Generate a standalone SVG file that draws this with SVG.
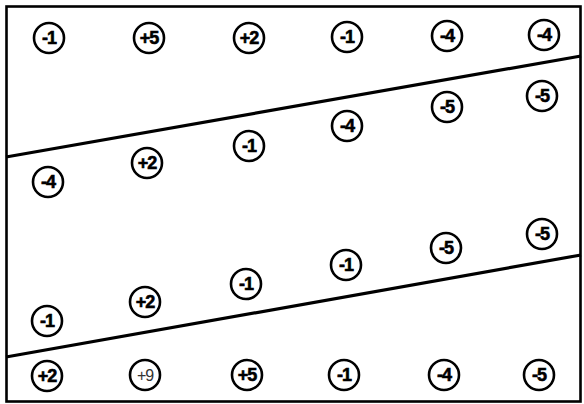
<svg xmlns="http://www.w3.org/2000/svg" width="584" height="404" viewBox="0 0 584 404">
<style>
.n circle{fill:#fff;stroke:#000;stroke-width:2.6}
.n text{font-family:"Liberation Sans",Arial,sans-serif;font-weight:bold;font-size:18px;letter-spacing:-1px;text-anchor:middle;dominant-baseline:central;fill:#000;stroke:#000;stroke-width:0.6}
.n.faint text{font-weight:normal;fill:#333;stroke:none;font-size:16px}
.edge{stroke:#000;stroke-width:3.2;fill:none}
</style>
<rect x="6.5" y="6.5" width="574" height="395" fill="#fff" stroke="#000" stroke-width="2.6"/>
<g id="connectors">
<line class="edge" x1="6" y1="157" x2="581" y2="56"/>
<line class="edge" x1="6" y1="357" x2="581" y2="255"/>
</g>
<g id="r1c1" class="n"><circle cx="49" cy="38" r="15"/><text x="49" y="38">-1</text></g>
<g id="r1c2" class="n"><circle cx="149" cy="38" r="15"/><text x="149" y="38">+5</text></g>
<g id="r1c3" class="n"><circle cx="249" cy="38" r="15"/><text x="249" y="38">+2</text></g>
<g id="r1c4" class="n"><circle cx="347" cy="37" r="15"/><text x="347" y="37">-1</text></g>
<g id="r1c5" class="n"><circle cx="447" cy="36" r="15"/><text x="447" y="36">-4</text></g>
<g id="r1c6" class="n"><circle cx="544" cy="35" r="15"/><text x="544" y="35">-4</text></g>
<g id="r2c1" class="n"><circle cx="48" cy="182" r="15"/><text x="48" y="182">-4</text></g>
<g id="r2c2" class="n"><circle cx="147" cy="163" r="15"/><text x="147" y="163">+2</text></g>
<g id="r2c3" class="n"><circle cx="249" cy="146" r="15"/><text x="249" y="146">-1</text></g>
<g id="r2c4" class="n"><circle cx="347" cy="126" r="15"/><text x="347" y="126">-4</text></g>
<g id="r2c5" class="n"><circle cx="447" cy="107" r="15"/><text x="447" y="107">-5</text></g>
<g id="r2c6" class="n"><circle cx="542" cy="96" r="15"/><text x="542" y="96">-5</text></g>
<g id="r3c1" class="n"><circle cx="47" cy="321" r="15"/><text x="47" y="321">-1</text></g>
<g id="r3c2" class="n"><circle cx="145" cy="302" r="15"/><text x="145" y="302">+2</text></g>
<g id="r3c3" class="n"><circle cx="246" cy="284" r="15"/><text x="246" y="284">-1</text></g>
<g id="r3c4" class="n"><circle cx="346" cy="265" r="15"/><text x="346" y="265">-1</text></g>
<g id="r3c5" class="n"><circle cx="446" cy="248" r="15"/><text x="446" y="248">-5</text></g>
<g id="r3c6" class="n"><circle cx="542" cy="234" r="15"/><text x="542" y="234">-5</text></g>
<g id="r4c1" class="n"><circle cx="47" cy="376" r="15"/><text x="47" y="376">+2</text></g>
<g id="r4c2" class="n faint"><circle cx="145" cy="375" r="15"/><text x="145" y="375">+9</text></g>
<g id="r4c3" class="n"><circle cx="247" cy="375" r="15"/><text x="247" y="375">+5</text></g>
<g id="r4c4" class="n"><circle cx="344" cy="375" r="15"/><text x="344" y="375">-1</text></g>
<g id="r4c5" class="n"><circle cx="444" cy="375" r="15"/><text x="444" y="375">-4</text></g>
<g id="r4c6" class="n"><circle cx="539" cy="375" r="15"/><text x="539" y="375">-5</text></g>
</svg>
